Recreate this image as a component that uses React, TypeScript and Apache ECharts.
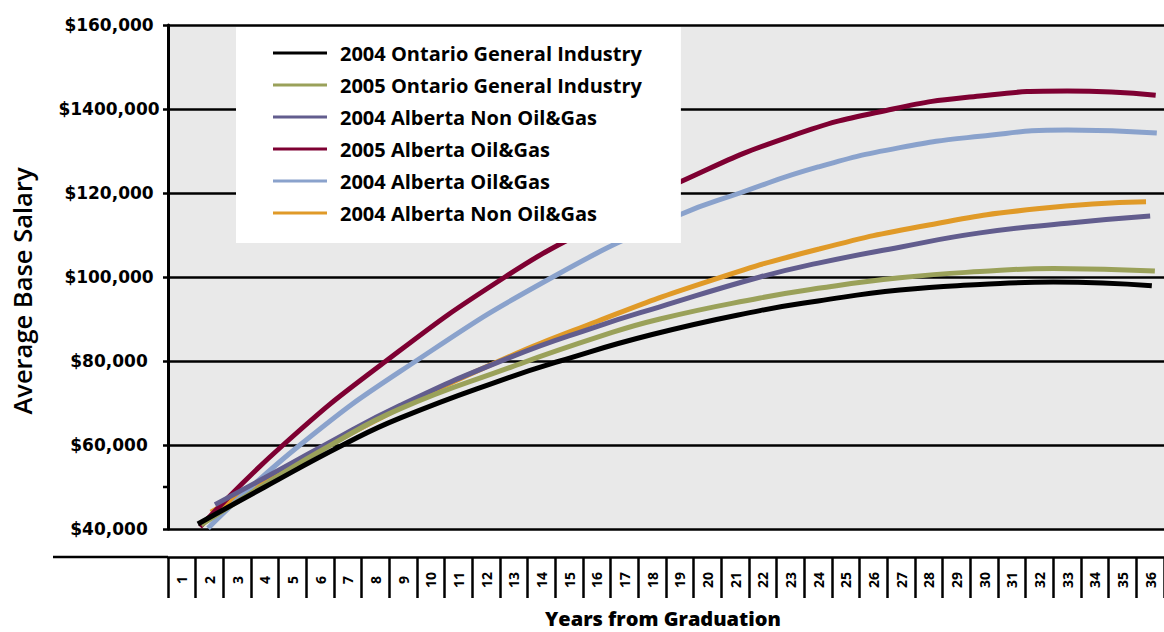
import React, { useEffect, useRef } from "react";
import * as echarts from "echarts";

// ---------- data ----------
const yearLabels = [
  "1", "2", "3", "4", "5", "6", "7", "8", "9", "10", "11", "12",
  "13", "14", "15", "16", "17", "18", "19", "20", "21", "22", "23", "24",
  "25", "26", "27", "28", "29", "30", "31", "32", "33", "34", "35", "36",
];

const salaryTicks = [40000, 60000, 80000, 100000, 120000, 140000, 160000];
const salaryTickLabels = ["$40,000", "$60,000", "$80,000", "$100,000", "$120,000", "$1400,000", "$160,000"];
const extraMinorTick = 50000;

const seriesKeys = ["ont2004", "ont2005", "albNon2004", "albOG2005", "albOG2004", "albNon2004b"];
const legendLabels = [
  "2004 Ontario General Industry",
  "2005 Ontario General Industry",
  "2004 Alberta Non Oil&Gas",
  "2005 Alberta Oil&Gas",
  "2004 Alberta Oil&Gas",
  "2004 Alberta Non Oil&Gas",
];
const seriesColors = ["#000000", "#9aa15a", "#625d8e", "#7e0032", "#8aa2cc", "#e09a28"];

// [years from graduation, average base salary]
const ontario2004 = [
  [1.58, 41200], [4, 50000], [6.82, 60000], [8.88, 66400], [12.79, 76000], [14.67, 80000],
  [18, 86300], [21.9, 92000], [24, 94300], [26.95, 96900], [29.85, 98200], [32.5, 98800], [36.06, 97900],
];
const ontario2005 = [
  [1.7, 41000], [4, 50600], [6.39, 60000], [8.88, 68600], [12.79, 78300], [16, 85600],
  [18.28, 90000], [21.9, 95000], [24, 97300], [26.95, 99800], [29.85, 101300], [32.5, 102000], [36.17, 101400],
];
const albertaNon2004 = [
  [2.2, 45800], [4, 52200], [6.17, 60000], [8.88, 69400], [12.8, 80700], [16, 88200],
  [18.28, 92900], [21.9, 100000], [24, 103300], [26.95, 107100], [29.85, 110500], [33, 112800], [36, 114500],
];
const albertaOG2005 = [
  [1.66, 40500], [4.66, 60000], [8.38, 80000], [12.68, 100000], [16, 112500], [19, 122600],
  [23, 133500], [26.7, 140000], [29.85, 143100], [33, 144300], [36.2, 143300],
];
const albertaOG2004 = [
  [1.95, 40200], [5.27, 60000], [9.46, 80000], [14.41, 100000], [19, 114800], [21.17, 120000],
  [24, 126200], [26.95, 130800], [29.85, 133500], [33, 135000], [36.24, 134300],
];
const albertaNon2004b = [
  [2.05, 44000], [4, 51300], [8, 65800], [12, 78600], [16, 89400], [20, 98900],
  [24, 106600], [28, 112400], [32, 116300], [35.85, 117900],
];

const seriesData = [ontario2004, ontario2005, albertaNon2004, albertaOG2005, albertaOG2004, albertaNon2004b];

export default function App() {
  const ref = useRef<HTMLDivElement>(null);

  useEffect(() => {
    const chart = echarts.init(ref.current as HTMLDivElement, null, { renderer: "svg" });

    const baseGraphic: any[] = [
      {
        type: "line",
        shape: { x1: 53, y1: 557, x2: 168, y2: 557 },
        style: { stroke: "#000", lineWidth: 2.5 },
      },
      {
        type: "text",
        x: 22,
        y: 291,
        rotation: Math.PI / 2,
        style: {
          text: "Average Base Salary",
          fill: "#000",
          font: "600 25.5px 'Open Sans'",
          align: "center",
          verticalAlign: "middle",
        },
      },
      {
        type: "text",
        x: 663,
        y: 618,
        style: {
          text: "Years from Graduation",
          fill: "#000",
          font: "800 20px 'Open Sans'",
          align: "center",
          verticalAlign: "middle",
        },
      },
    ];

    const option: any = {
      animation: false,
      backgroundColor: "#ffffff",
      grid: [
        { left: 168, top: 25, right: 0, bottom: 103, show: true, backgroundColor: "#e9e9e9", borderWidth: 0 },
        { left: 168, top: 516, right: 0, height: 41, show: false },
      ],
      xAxis: [
        { type: "value", gridIndex: 0, min: 0.5, max: 36.5, show: false },
        {
          type: "category",
          gridIndex: 1,
          position: "bottom",
          data: yearLabels,
          boundaryGap: true,
          axisLine: { show: true, lineStyle: { color: "#000", width: 2.5 } },
          axisTick: { show: true, inside: false, length: 41, alignWithLabel: false, interval: 0, lineStyle: { color: "#000", width: 2.5 } },
          axisLabel: {
            inside: false,
            rotate: 90,
            margin: 23,
            align: "center",
            verticalAlign: "middle",
            interval: 0,
            fontFamily: "Open Sans",
            fontWeight: 700,
            fontSize: 14,
            color: "#000",
          },
          splitLine: { show: false },
        },
      ],
      yAxis: [
        {
          type: "value",
          gridIndex: 0,
          min: 40000,
          max: 160000,
          interval: 20000,
          axisLine: { show: true, lineStyle: { color: "#000", width: 3 } },
          axisTick: { show: true, length: 5, lineStyle: { color: "#000", width: 2.5 } },
          splitLine: { show: true, lineStyle: { color: "#000", width: 2.5 } },
          axisLabel: {
            margin: 59,
            align: "center",
            verticalAlign: "middle",
            padding: [0, 0, 5, 0],
            fontFamily: "DejaVu Sans",
            fontWeight: "bold",
            fontSize: 17,
            color: "#000",
            formatter: (v: number) => {
              const i = salaryTicks.indexOf(v);
              return i >= 0 ? salaryTickLabels[i] : "";
            },
          },
        },
        { type: "value", gridIndex: 1, show: false },
      ],
      legend: {
        orient: "vertical",
        left: 236,
        top: 27,
        z: 10,
        selectedMode: false,
        backgroundColor: "#ffffff",
        borderWidth: 0,
        padding: [15, 39, 19, 37],
        itemWidth: 54,
        itemHeight: 3,
        itemGap: 10,
        icon: "rect",
        data: seriesKeys,
        formatter: (name: string) => legendLabels[seriesKeys.indexOf(name)],
        textStyle: {
          fontFamily: "Open Sans",
          fontWeight: 700,
          fontSize: 20,
          lineHeight: 22,
          color: "#000",
          padding: [0, 0, 0, 8],
        },
      },
      graphic: baseGraphic,
      series: seriesKeys.map((key, i) => ({
        name: key,
        type: "line",
        xAxisIndex: 0,
        yAxisIndex: 0,
        data: seriesData[i],
        smooth: true,
        symbol: "none",
        showSymbol: false,
        z: 8 - i,
        lineStyle: { color: seriesColors[i], width: 5 },
        itemStyle: { color: seriesColors[i] },
        emphasis: { disabled: true },
      })),
    };

    chart.setOption(option);

    // single extra minor tick on the y axis (between $40,000 and $60,000)
    const yMinor = chart.convertToPixel({ yAxisIndex: 0 }, extraMinorTick) as number;
    const xAxisPos = chart.convertToPixel({ xAxisIndex: 0 }, 0.5) as number;
    chart.setOption({
      graphic: [
        ...baseGraphic,
        {
          type: "line",
          shape: { x1: xAxisPos - 5, y1: yMinor, x2: xAxisPos, y2: yMinor },
          style: { stroke: "#000", lineWidth: 2.5 },
        },
      ],
    });

    return () => chart.dispose();
  }, []);

  return (
    <div
      ref={ref}
      style={{ position: "absolute", left: 0, top: 0, width: 1164, height: 632, background: "#ffffff" }}
    />
  );
}
